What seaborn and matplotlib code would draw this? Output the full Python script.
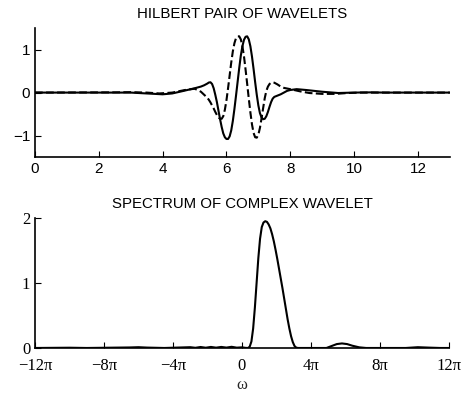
import numpy as np
import matplotlib
matplotlib.use('Agg')
import matplotlib.pyplot as plt
import seaborn as sns

# wavelets
t_h = [0, 2.5, 3.0, 3.5, 4.0, 4.3, 4.6, 5.0, 5.2, 5.3,
       5.40, 5.45, 5.50, 5.55, 5.60, 5.65, 5.70, 5.75, 5.80, 5.85,
       5.90, 5.95, 6.00, 6.05, 6.10, 6.15, 6.20, 6.25, 6.30, 6.35,
       6.40, 6.45, 6.50, 6.55, 6.60, 6.65, 6.70, 6.75, 6.80, 6.85,
       6.90, 6.95, 7.00, 7.05, 7.10, 7.15, 7.20, 7.25, 7.30, 7.35,
       7.40, 7.45, 7.50, 7.60, 7.70, 7.80, 7.90, 8.00, 8.20, 8.50,
       9.00, 9.50, 10.0, 10.5, 11.0, 13.0]
psi_h = [0, 0, 0.0, -0.02, -0.04, -0.02, 0.03, 0.10, 0.14, 0.17,
         0.21, 0.235, 0.24, 0.20, 0.10, -0.05, -0.22, -0.42, -0.62, -0.80,
         -0.95, -1.04, -1.08, -1.08, -1.02, -0.88, -0.66, -0.38, -0.07, 0.25,
         0.57, 0.86, 1.08, 1.23, 1.30, 1.31, 1.24, 1.08, 0.84, 0.55,
         0.24, -0.05, -0.30, -0.48, -0.58, -0.62, -0.61, -0.55, -0.45, -0.33,
         -0.22, -0.14, -0.10, -0.07, -0.04, 0.0, 0.04, 0.06, 0.08, 0.06,
         0.02, -0.01, 0.0, 0.005, 0, 0]

t_g = [0, 2.5, 3.0, 3.5, 3.9, 4.3, 4.7, 5.0, 5.1, 5.2, 5.3,
       5.40, 5.45, 5.50, 5.55, 5.60, 5.65, 5.70, 5.75, 5.80, 5.85,
       5.90, 5.95, 6.00, 6.05, 6.10, 6.15, 6.20, 6.25, 6.30, 6.35,
       6.40, 6.45, 6.50, 6.55, 6.60, 6.65, 6.70, 6.75, 6.80, 6.85,
       6.90, 6.95, 7.00, 7.05, 7.10, 7.15, 7.20, 7.25, 7.30, 7.35,
       7.40, 7.45, 7.50, 7.60, 7.70, 7.80, 8.00, 8.30, 8.60, 9.00,
       9.40, 9.80, 10.2, 10.7, 13.0]
psi_g = [0, 0.005, 0.01, 0.0, -0.02, 0.0, 0.06, 0.09, 0.06, 0.02, -0.05,
         -0.12, -0.17, -0.23, -0.30, -0.37, -0.45, -0.52, -0.58, -0.61, -0.61,
         -0.55, -0.40, -0.18, 0.10, 0.40, 0.70, 0.96, 1.15, 1.27, 1.31,
         1.31, 1.24, 1.08, 0.84, 0.53, 0.20, -0.14, -0.46, -0.74, -0.94,
         -1.04, -1.05, -0.98, -0.82, -0.60, -0.36, -0.13, 0.04, 0.14, 0.20,
         0.23, 0.24, 0.23, 0.19, 0.14, 0.11, 0.08, 0.03, -0.01, -0.03,
         -0.03, -0.01, 0.0, 0.0, 0]

# spectrum, frequency in units of pi
w_pi = [-12, -10.5, -10, -9, -6.5, -6, -5.5, -4.5, -3, -2.7,
        -2.4, -2.1, -1.8, -1.5, -1.2, -0.9, -0.6, -0.3, 0.0, 0.2,
        0.35, 0.45, 0.55, 0.65, 0.75, 0.85, 0.95, 1.05, 1.15, 1.25,
        1.35, 1.45, 1.55, 1.65, 1.75, 1.85, 1.95, 2.05, 2.15, 2.25,
        2.35, 2.45, 2.55, 2.65, 2.75, 2.85, 2.95, 3.05, 3.15, 3.25,
        4.9, 5.2, 5.5, 5.8, 6.1, 6.4, 6.8, 7.2, 9.5, 10.2,
        10.9, 11.5, 12]
spec = [0, 0.003, 0.004, 0, 0.008, 0.012, 0.006, 0, 0.012, 0.003,
        0.015, 0.004, 0.016, 0.005, 0.016, 0.006, 0.018, 0.005, 0.01, 0.002,
        0, 0.02, 0.10, 0.30, 0.62, 1.00, 1.38, 1.68, 1.86, 1.93,
        1.95, 1.94, 1.90, 1.84, 1.75, 1.64, 1.51, 1.37, 1.22, 1.07,
        0.92, 0.76, 0.60, 0.44, 0.30, 0.18, 0.09, 0.03, 0.005, 0,
        0, 0.03, 0.06, 0.07, 0.06, 0.035, 0.01, 0, 0, 0.012,
        0.005, 0, 0]

w_ticks = [-12, -8, -4, 0, 4, 8, 12]
w_labels = ['\u221212\u03c0', '\u22128\u03c0', '\u22124\u03c0', '0', '4\u03c0', '8\u03c0', '12\u03c0']

sns.set_style('ticks', {'xtick.direction': 'in', 'ytick.direction': 'in',
                        'axes.edgecolor': 'black', 'text.color': 'black',
                        'xtick.color': 'black', 'ytick.color': 'black'})
plt.rcParams['font.family'] = ['Liberation Sans', 'DejaVu Sans']
plt.rcParams['font.size'] = 11

fig = plt.figure(figsize=(4.65, 3.94), dpi=100)
ax1 = fig.add_axes([0.0753, 0.6015, 0.892, 0.327])
ax2 = fig.add_axes([0.0753, 0.1168, 0.890, 0.330])

sns.lineplot(x=t_h, y=psi_h, ax=ax1, color='k', lw=1.5, errorbar=None)
sns.lineplot(x=t_g, y=psi_g, ax=ax1, color='k', lw=1.5, ls='--', errorbar=None)
ax1.set_xlim(0, 13)
ax1.set_ylim(-1.5, 1.5)
ax1.set_xticks(range(0, 13, 2))
ax1.set_yticks([-1, 0, 1])
ax1.set_yticklabels(['\u22121', '0', '1'])
ax1.set_title('HILBERT PAIR OF WAVELETS', fontsize=10.8, pad=7)

sns.lineplot(x=np.array(w_pi) * np.pi, y=spec, ax=ax2, color='k', lw=1.5, errorbar=None)
ax2.set_xlim(-12 * np.pi, 12 * np.pi)
ax2.set_ylim(0, 2)
ax2.set_xticks(np.array(w_ticks) * np.pi)
ax2.set_xticklabels(w_labels, family='Liberation Serif', fontsize=12)
ax2.set_yticks([0, 1, 2])
ax2.set_yticklabels(['0', '1', '2'], family='Liberation Serif', fontsize=12)
ax2.tick_params(axis='x', pad=7.5)
ax2.set_xlabel('\u03c9', family='Liberation Serif', fontsize=12)
ax2.xaxis.set_label_coords(0.5, -0.22)
ax2.set_title('SPECTRUM OF COMPLEX WAVELET', fontsize=10.8, pad=7)

for ax in (ax1, ax2):
    sns.despine(ax=ax)
    ax.tick_params(length=4, width=0.8)
    for s in ('left', 'bottom'):
        ax.spines[s].set_linewidth(1.2)

fig.savefig('out.png', dpi=100)
